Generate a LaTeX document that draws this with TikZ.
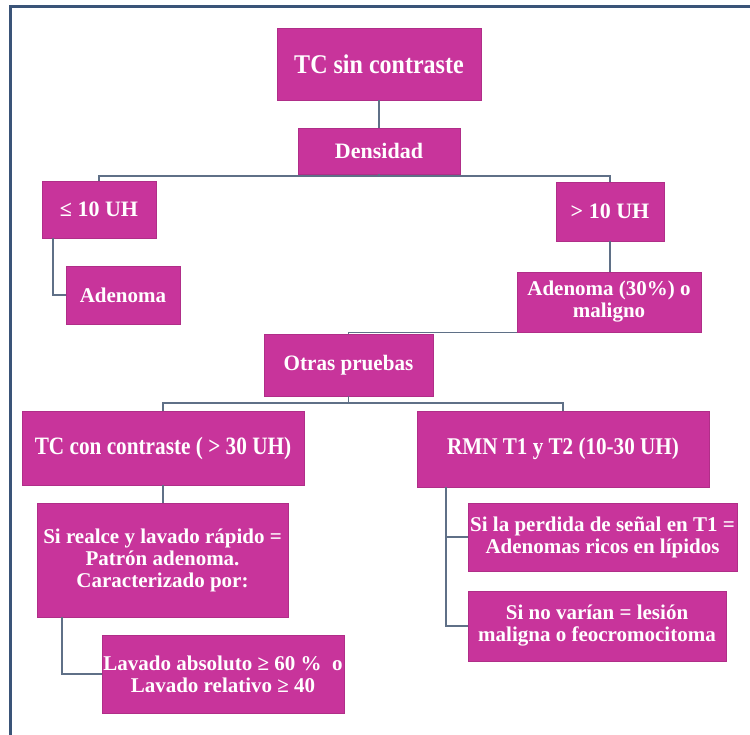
\documentclass[tikz,border=0pt]{standalone}
\usepackage{fontspec}
\setmainfont{Liberation Serif}
\definecolor{boxfill}{RGB}{200,52,155}
\definecolor{linec}{RGB}{95,112,135}
\definecolor{framec}{RGB}{58,84,120}
\newcommand{\fsz}[2]{\bfseries\fontsize{#1}{22}\selectfont\addfontfeature{FakeStretch=#2}}
\begin{document}
\begin{tikzpicture}[x=1pt,y=-1pt,
  box/.style={fill=boxfill, draw=boxfill!88!black, line width=0.6pt, text=white,
    font=\bfseries\fontsize{21}{22}\selectfont, align=center, inner sep=0pt},
  conn/.style={draw=linec, line width=1.3pt}]
\useasboundingbox (0,0) rectangle (750,735);
\fill[white] (0,0) rectangle (750,735);
\draw[framec, line width=3pt] (750,7) -- (10,7) -- (10,735);

\node[box, minimum width=204pt, minimum height=72pt, font=\fsz{27}{0.89}] (tc) at (379,64) {TC sin contraste};
\node[box, minimum width=162pt, minimum height=46pt, font=\fsz{22}{1}] (dens) at (379,151) {Densidad};
\node[box, minimum width=114pt, minimum height=57pt, font=\fsz{22}{1}] (le10) at (99,209.5) {≤ 10 UH};
\node[box, minimum width=108pt, minimum height=59pt, font=\fsz{22}{1}] (gt10) at (610,211.5) {> 10 UH};
\node[box, minimum width=114pt, minimum height=58pt] (aden) at (123,295) {Adenoma};
\node[box, minimum width=184pt, minimum height=60pt] (aden30) at (609,302) {Adenoma (30\%) o\\maligno};
\node[box, minimum width=169pt, minimum height=62pt, font=\fsz{22}{0.96}] (otras) at (348.5,365) {Otras pruebas};
\node[box, minimum width=282pt, minimum height=74pt, font=\fsz{25}{0.85}] (tccon) at (163,448) {TC con contraste ( > 30 UH)};
\node[box, minimum width=292pt, minimum height=76pt, font=\fsz{24}{0.88}] (rmn) at (563,449) {RMN T1 y T2 (10-30 UH)};
\node[box, minimum width=251pt, minimum height=114pt] (sireal) at (162.5,560) {Si realce y lavado rápido =\\Patrón adenoma.\\Caracterizado por:};
\node[box, minimum width=242pt, minimum height=78pt] (lavado) at (223,674) {Lavado absoluto ≥ 60 \%\ \ o\\Lavado relativo ≥ 40};
\node[box, minimum width=269pt, minimum height=68pt] (siper) at (602.5,537) {Si la perdida de señal en T1 =\\Adenomas ricos en lípidos};
\node[box, minimum width=258pt, minimum height=70pt] (sinov) at (597,626) {Si no varían = lesión\\maligna o feocromocitoma};

\coordinate (b1) at (379,176);
\coordinate (b2) at (348.5,403);
\draw[conn] (tc.south) -- (dens.north);
\draw[conn] (dens.south) -- (b1) -| (le10.north);
\draw[conn] (b1) -| (gt10.north);
\draw[conn] ([xshift=-46pt]le10.south) |- (aden.west);
\draw[conn] (gt10.south) -- (gt10.south |- aden30.north);
\draw[conn] (aden30.south west) -| (otras.north);
\draw[conn] (otras.south) -- (b2);
\draw[conn] (tccon.north) |- (b2) -| (rmn.north);
\draw[conn] (tccon.south) -- (tccon.south |- sireal.north);
\draw[conn] ([xshift=-100.5pt]sireal.south) |- (lavado.west);
\draw[conn] ([xshift=-117pt]rmn.south) |- (siper.west);
\draw[conn] ([xshift=-117pt]rmn.south) |- (sinov.west);
\end{tikzpicture}
\end{document}
